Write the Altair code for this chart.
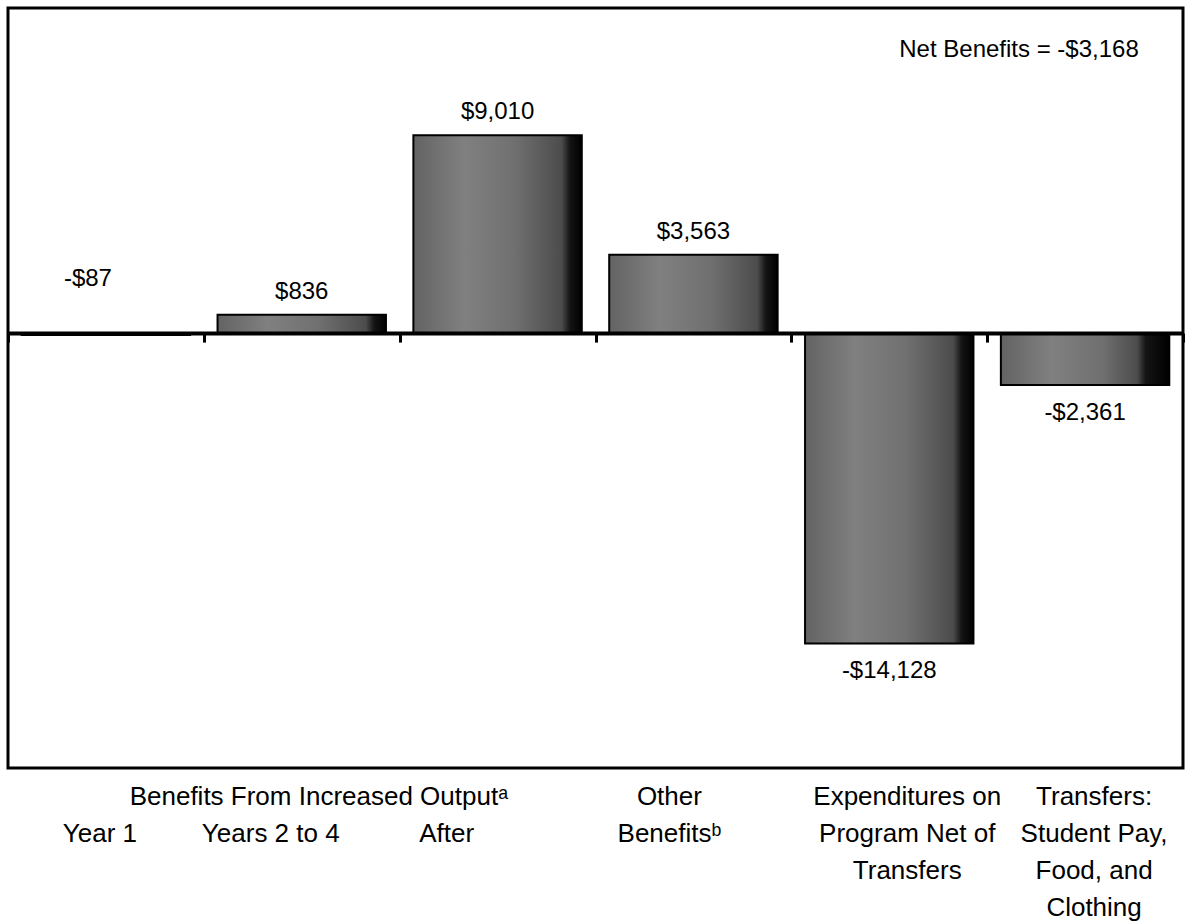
import altair as alt
import pandas as pd

# ---- data ----
categories = ["Year 1", "Years 2 to 4", "After", "Other Benefits", "Expenditures", "Transfers"]
values = [-87, 836, 9010, 3563, -14128, -2361]
value_labels = ["-$87", "$836", "$9,010", "$3,563", "-$14,128", "-$2,361"]
axis_labels = [
    "\nYear 1",
    "\nYears 2 to 4",
    "\nAfter",
    "Other\nBenefits\u1d47",
    "Expenditures on\nProgram Net of\nTransfers",
    "Transfers:\nStudent Pay,\nFood, and\nClothing",
]
group_label = "Benefits From Increased Output\u1d43"
group_anchor = "Years 2 to 4"
net_label = "Net Benefits = -$3,168"

# ---- layout (not data) ----
W, H = 1175, 760
Y_MIN, Y_MAX = -19800, 14800
FONT = "Arial, Liberation Sans, sans-serif"
LABEL_SIZE = 26
LINE_H = 37
LABEL_TOP = 776
label_dx = {"Year 1": -6, "Years 2 to 4": -31, "After": -51,
            "Other Benefits": -24, "Expenditures": 18, "Transfers": 9}

df = pd.DataFrame({"cat": categories, "value": values, "label": value_labels,
                   "axis_label": axis_labels})

zero_px = H * Y_MAX / (Y_MAX - Y_MIN)

x_enc = alt.X(
    "cat:N",
    sort=categories,
    scale=alt.Scale(domain=categories, paddingInner=0, paddingOuter=0),
    axis=alt.Axis(
        title=None, labels=False, orient="bottom", offset=-(H - zero_px),
        domainColor="black", domainWidth=4, tickColor="black", tickWidth=3,
        tickSize=9, tickBand="extent", grid=False, zindex=1,
    ),
)
y_scale = alt.Scale(domain=[Y_MIN, Y_MAX], nice=False, zero=False)
y_enc = alt.Y("value:Q", scale=y_scale, axis=None)


def shade(dark_start):
    return alt.Gradient(
        gradient="linear", x1=0, x2=1, y1=0, y2=0,
        stops=[
            alt.GradientStop(offset=0.0, color="#636363"),
            alt.GradientStop(offset=0.3, color="#808080"),
            alt.GradientStop(offset=0.6, color="#707070"),
            alt.GradientStop(offset=dark_start - 0.05, color="#4c4c4c"),
            alt.GradientStop(offset=dark_start, color="#141414"),
            alt.GradientStop(offset=1.0, color="#000000"),
        ],
    )


base = alt.Chart(df)

bars = base.mark_bar(color=shade(0.93), stroke="black", strokeWidth=2,
                     width=alt.RelativeBandSize(0.86)).encode(
    x=x_enc, y=y_enc
).transform_filter("datum.cat != 'Transfers'")

bars_t = base.mark_bar(color=shade(0.86), stroke="black", strokeWidth=2,
                       width=alt.RelativeBandSize(0.86)).encode(
    x=x_enc, y=y_enc
).transform_filter("datum.cat == 'Transfers'")

pos_labels = base.mark_text(font=FONT, fontSize=24, baseline="alphabetic", dy=-16).encode(
    x=x_enc, y=y_enc, text="label:N"
).transform_filter("datum.value > 0")

neg_labels = base.mark_text(font=FONT, fontSize=24, baseline="alphabetic", dy=35).encode(
    x=x_enc, y=y_enc, text="label:N"
).transform_filter("datum.value < -1000")

small_labels = base.mark_text(font=FONT, fontSize=24, baseline="alphabetic", dy=-49, dx=-18).encode(
    x=x_enc, y=y_enc, text="label:N"
).transform_filter("datum.value < 0 && datum.value > -1000")

layers = [bars, bars_t, pos_labels, neg_labels, small_labels]

for c in categories:
    layers.append(
        base.mark_text(font=FONT, fontSize=LABEL_SIZE, baseline="top", lineBreak="\n",
                       lineHeight=LINE_H, dx=label_dx[c]).encode(
            x=x_enc, y=alt.value(LABEL_TOP), text="axis_label:N"
        ).transform_filter(alt.datum.cat == c)
    )

group = alt.Chart(pd.DataFrame({"cat": [group_anchor], "t": [group_label]})).mark_text(
    font=FONT, fontSize=LABEL_SIZE, baseline="top", lineHeight=LINE_H, dx=17
).encode(x=x_enc, y=alt.value(LABEL_TOP), text="t:N")
layers.append(group)

net = alt.Chart(pd.DataFrame({"t": [net_label]})).mark_text(
    font=FONT, fontSize=24, baseline="alphabetic", align="center"
).encode(x=alt.value(1011), y=alt.value(49), text="t:N")
layers.append(net)

chart = alt.layer(*layers).properties(
    width=W, height=H,
    autosize=alt.AutoSizeParams(type="none"),
    padding={"left": 8, "top": 8, "right": 7, "bottom": 155},
    background="white",
).configure_view(stroke="black", strokeWidth=3)

chart.save("out.html", embed_options={"renderer": "svg", "actions": False})
